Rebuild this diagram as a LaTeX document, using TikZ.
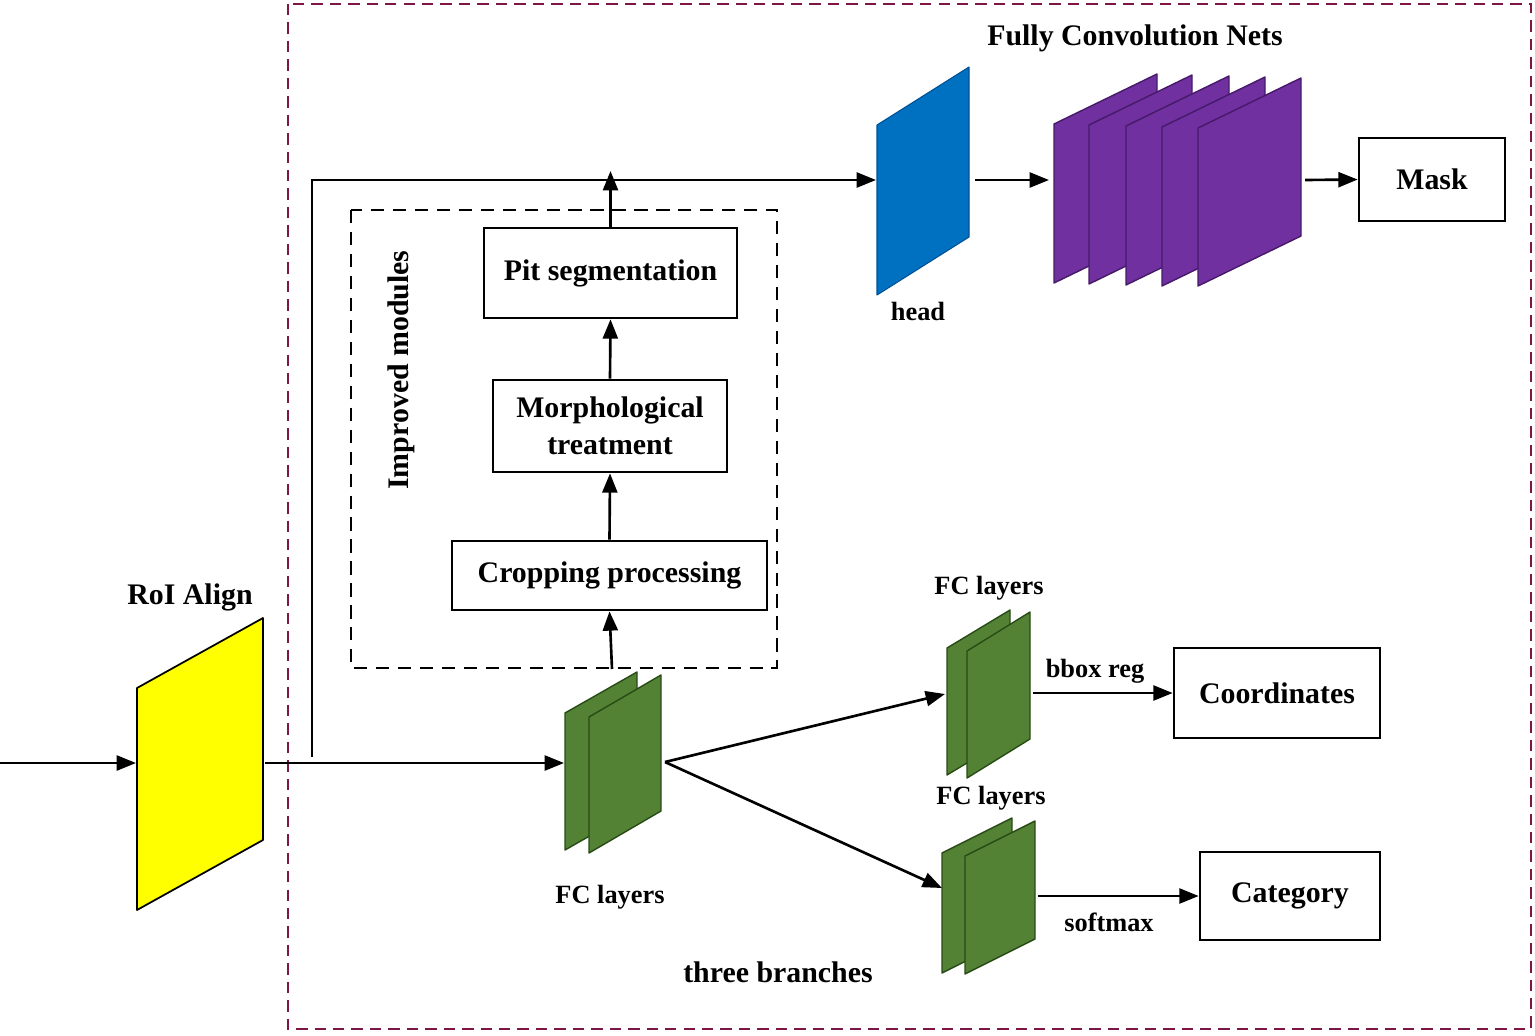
\documentclass[tikz,border=0pt]{standalone}
\usepackage{fontspec}
\setmainfont{Liberation Serif}
\usetikzlibrary{arrows.meta}
\definecolor{outerc}{RGB}{125,22,68}
\definecolor{yel}{RGB}{255,255,0}
\definecolor{bluec}{RGB}{0,112,192}
\definecolor{bluee}{RGB}{0,80,150}
\definecolor{grn}{RGB}{84,130,53}
\definecolor{grne}{RGB}{40,75,22}
\definecolor{purp}{RGB}{112,48,160}
\definecolor{purpe}{RGB}{70,25,105}
\tikzset{
  conn/.style={line width=1.5pt, -{Triangle[length=11pt,width=8.5pt]}},
  procbox/.style={draw, line width=1.5pt, fill=white, font=\fontsize{17}{21}\selectfont\bfseries, align=center, inner sep=0pt},
  biglabel/.style={font=\fontsize{17}{19}\selectfont\bfseries, inner sep=0pt},
  smalllabel/.style={font=\fontsize{15}{17}\selectfont\bfseries, inner sep=0pt},
  greenpanel/.style={fill=grn, draw=grne, line width=0.8pt, line join=round},
  purppanel/.style={fill=purp, draw=purpe, line width=0.8pt, line join=round},
}
\newcommand{\panel}[6]{% style, x0, y0, w, rise, h
  \path[#1] (#2,#3) -- ++(#4,-#5) -- ++(0,#6) -- ++(-#4,#5) -- cycle;}
\begin{document}
\begin{tikzpicture}[x=0.02cm,y=-0.02cm]
\useasboundingbox (0,0) rectangle (1535,1035);

% outer dashed frame
\draw[outerc, line width=1.5pt, dash pattern=on 6.5pt off 4pt] (288,4) rectangle (1531,1029);
% inner dashed frame
\draw[black, line width=1.4pt, dash pattern=on 7.5pt off 5pt] (351,210) rectangle (777,668);

% RoI Align panel
\path[fill=yel, draw=black, line width=1pt, line join=round] (137,688) -- (263,618) -- (263,840) -- (137,910) -- cycle;
\node[biglabel] (roilbl) at (190,597) {RoI Align};
\coordinate (in) at (0,763);
\coordinate (roiW) at (136,763);
\coordinate (roiE) at (265,763);

% first FC layers
\panel{greenpanel}{565}{713}{72}{41}{137}
\panel{greenpanel}{589}{717}{72}{42}{136}
\coordinate (fc1W) at (564,763);
\coordinate (fc1E) at (665,762);
\coordinate (fc1T) at (612,669);
\node[smalllabel] (fc1lbl) at (610,897) {FC layers};

% improved modules
\node[procbox, minimum width=315*0.02cm, minimum height=69*0.02cm] (crop) at (609.5,575.5) {Cropping processing};
\node[procbox, minimum width=234*0.02cm, minimum height=92*0.02cm] (morph) at (610,426) {Morphological\\treatment};
\node[procbox, minimum width=253*0.02cm, minimum height=90*0.02cm] (pit) at (610.5,273) {Pit segmentation};
\node[biglabel, rotate=90] (implbl) at (401,370) {Improved modules};
\coordinate (pitUp) at (610.5,171);

% head
\path[fill=bluec, draw=bluee, line width=0.6pt, line join=round] (877,125) -- (969,67) -- (969,237) -- (877,295) -- cycle;
\node[smalllabel] (headlbl) at (918,311) {head};
\coordinate (headW) at (876,180);
\coordinate (headE) at (975,180);

% fully convolution nets
\panel{purppanel}{1054}{124}{103}{50}{159}
\panel{purppanel}{1089}{125}{103}{50}{159}
\panel{purppanel}{1126}{126}{103}{50}{159}
\panel{purppanel}{1162}{127}{103}{50}{159}
\panel{purppanel}{1198}{128}{103}{50}{158}
\node[biglabel] (fcnlbl) at (1135,38) {Fully Convolution Nets};
\coordinate (fcnW) at (1049,180);
\coordinate (fcnE) at (1305,180);

\node[procbox, minimum width=146*0.02cm, minimum height=83*0.02cm] (mask) at (1432,179.5) {Mask};

% upper branch
\panel{greenpanel}{947}{648}{63}{38}{127}
\panel{greenpanel}{967}{651}{63}{39}{127}
\node[smalllabel] (fc2lbl) at (989,588) {FC layers};
\coordinate (fc2W) at (945,694);
\coordinate (fc2E) at (1033,693);
\node[procbox, minimum width=206*0.02cm, minimum height=90*0.02cm] (coord) at (1277,693) {Coordinates};
\node[smalllabel] (bboxlbl) at (1095,671) {bbox reg};

% lower branch
\panel{greenpanel}{942}{853}{70}{35}{120}
\panel{greenpanel}{965}{856}{70}{35}{118}
\node[smalllabel] (fc3lbl) at (991,798) {FC layers};
\coordinate (fc3W) at (942,888);
\coordinate (fc3E) at (1038,896);
\node[procbox, minimum width=180*0.02cm, minimum height=88*0.02cm] (cat) at (1290,896) {Category};
\node[smalllabel] (softlbl) at (1109,922) {softmax};

\node[biglabel] (threelbl) at (778,972) {three branches};

% connectors
\draw[conn] (in) -- (roiW);
\draw[conn] (roiE) -- (fc1W);
\coordinate (brB) at (312,757);
\coordinate (brT) at (312,180);
\draw[conn] (brB) -- (brT) -- (headW);
\draw[conn] (fc1T) -- (crop.south);
\draw[conn] (crop.north) -- (morph.south);
\draw[conn] (morph.north) -- (pit.south);
\draw[conn] (pit.north) -- (pitUp);
\draw[conn] (headE) -- (fcnW);
\draw[conn] (fcnE) -- (mask.west);
\draw[conn] (fc1E) -- (fc2W);
\draw[conn] (fc1E) -- (fc3W);
\draw[conn] (fc2E) -- (coord.west);
\draw[conn] (fc3E) -- (cat.west);
\end{tikzpicture}
\end{document}
